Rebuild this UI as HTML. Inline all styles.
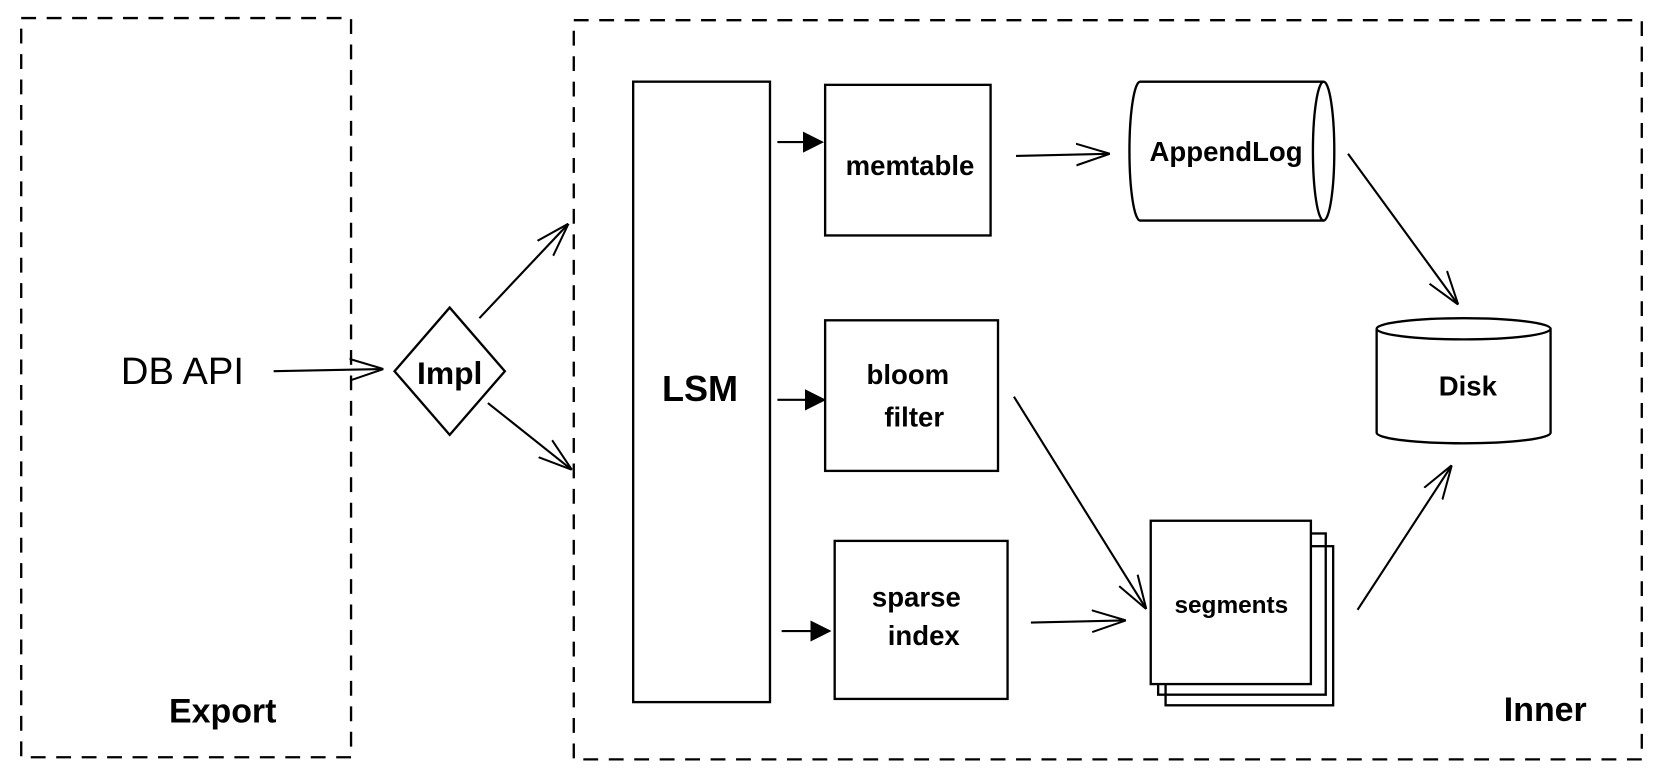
<!DOCTYPE html>
<html><head><meta charset="utf-8"><style>html,body{margin:0;padding:0;background:#fff}svg{display:block}text{font-family:"Liberation Sans",sans-serif;fill:#000}</style></head><body>
<svg width="1663" height="779" viewBox="0 0 1568 734.5" xmlns="http://www.w3.org/2000/svg">
<defs><marker id="a" viewBox="0 0 10 10" refX="9.5" refY="5" markerWidth="32" markerHeight="32" markerUnits="userSpaceOnUse" orient="auto"><path d="M0,1.8 L10,5 L0,8.2" fill="none" stroke="#000" stroke-width="0.6"/></marker>
<marker id="t" viewBox="0 0 10 10" refX="9" refY="5" markerWidth="20" markerHeight="20" markerUnits="userSpaceOnUse" orient="auto"><path d="M0,0 L10,5 L0,10z" fill="#000"/></marker></defs>
<g fill="none" stroke="#000" stroke-width="2.2">
<rect x="20" y="17" width="311" height="697" stroke-dasharray="14 10"/>
<rect x="541" y="19" width="1007" height="697" stroke-dasharray="14 10"/>
<rect x="597" y="77" width="129" height="585"/>
<rect x="778" y="80" width="156" height="142"/>
<rect x="778" y="302" width="163" height="142"/>
<rect x="787" y="510" width="163" height="149"/>
<rect x="1099" y="515" width="158" height="150"/>
<rect x="1092" y="503" width="158" height="152"/>
<rect x="1085" y="491" width="151" height="154" fill="#fff"/>
<path d="M424,290 L476,350 L424,410 L372,350 Z"/>
<path d="M1075,77 L1248,77 A10,65 0 0 1 1248,208 L1075,208 A10,65 0 0 1 1075,77 Z"/>
<path d="M1248,77 A10,65 0 0 0 1248,208"/>
<path d="M1298,310 A82,10 0 0 1 1462,310 L1462,408 A82,10 0 0 1 1298,408 Z"/>
<path d="M1298,310 A82,10 0 0 0 1462,310"/>
</g>
<g fill="none" stroke="#000" stroke-width="2" marker-end="url(#a)">
<line x1="258" y1="350" x2="360" y2="348"/>
<line x1="452" y1="300" x2="535" y2="212"/>
<line x1="460" y1="380" x2="538" y2="442"/>
<line x1="958" y1="147" x2="1045" y2="145"/>
<line x1="1271" y1="145" x2="1374" y2="286"/>
<line x1="956" y1="374" x2="1080" y2="573"/>
<line x1="972" y1="587" x2="1060" y2="585"/>
<line x1="1280" y1="575" x2="1368" y2="440"/>
</g>
<g stroke="#000" stroke-width="2" marker-end="url(#t)">
<line x1="733" y1="134" x2="775" y2="134"/>
<line x1="733" y1="377" x2="777" y2="377"/>
<line x1="737" y1="595" x2="782" y2="595"/>
</g>
<g text-anchor="middle" font-weight="bold">
<text x="172" y="362" font-size="36" font-weight="normal">DB API</text>
<text x="424" y="362" font-size="30">Impl</text>
<text x="660" y="378" font-size="34">LSM</text>
<text x="858" y="165" font-size="26">memtable</text>
<text x="856" y="362" font-size="26">bloom</text>
<text x="862" y="402" font-size="26">filter</text>
<text x="864" y="572" font-size="26">sparse</text>
<text x="871" y="608" font-size="26">index</text>
<text x="1156" y="152" font-size="26">AppendLog</text>
<text x="1384" y="373" font-size="26">Disk</text>
<text x="1161" y="578" font-size="23">segments</text>
<text x="210" y="681" font-size="32">Export</text>
<text x="1457" y="680" font-size="32">Inner</text>
</g>
</svg>
</body></html>
